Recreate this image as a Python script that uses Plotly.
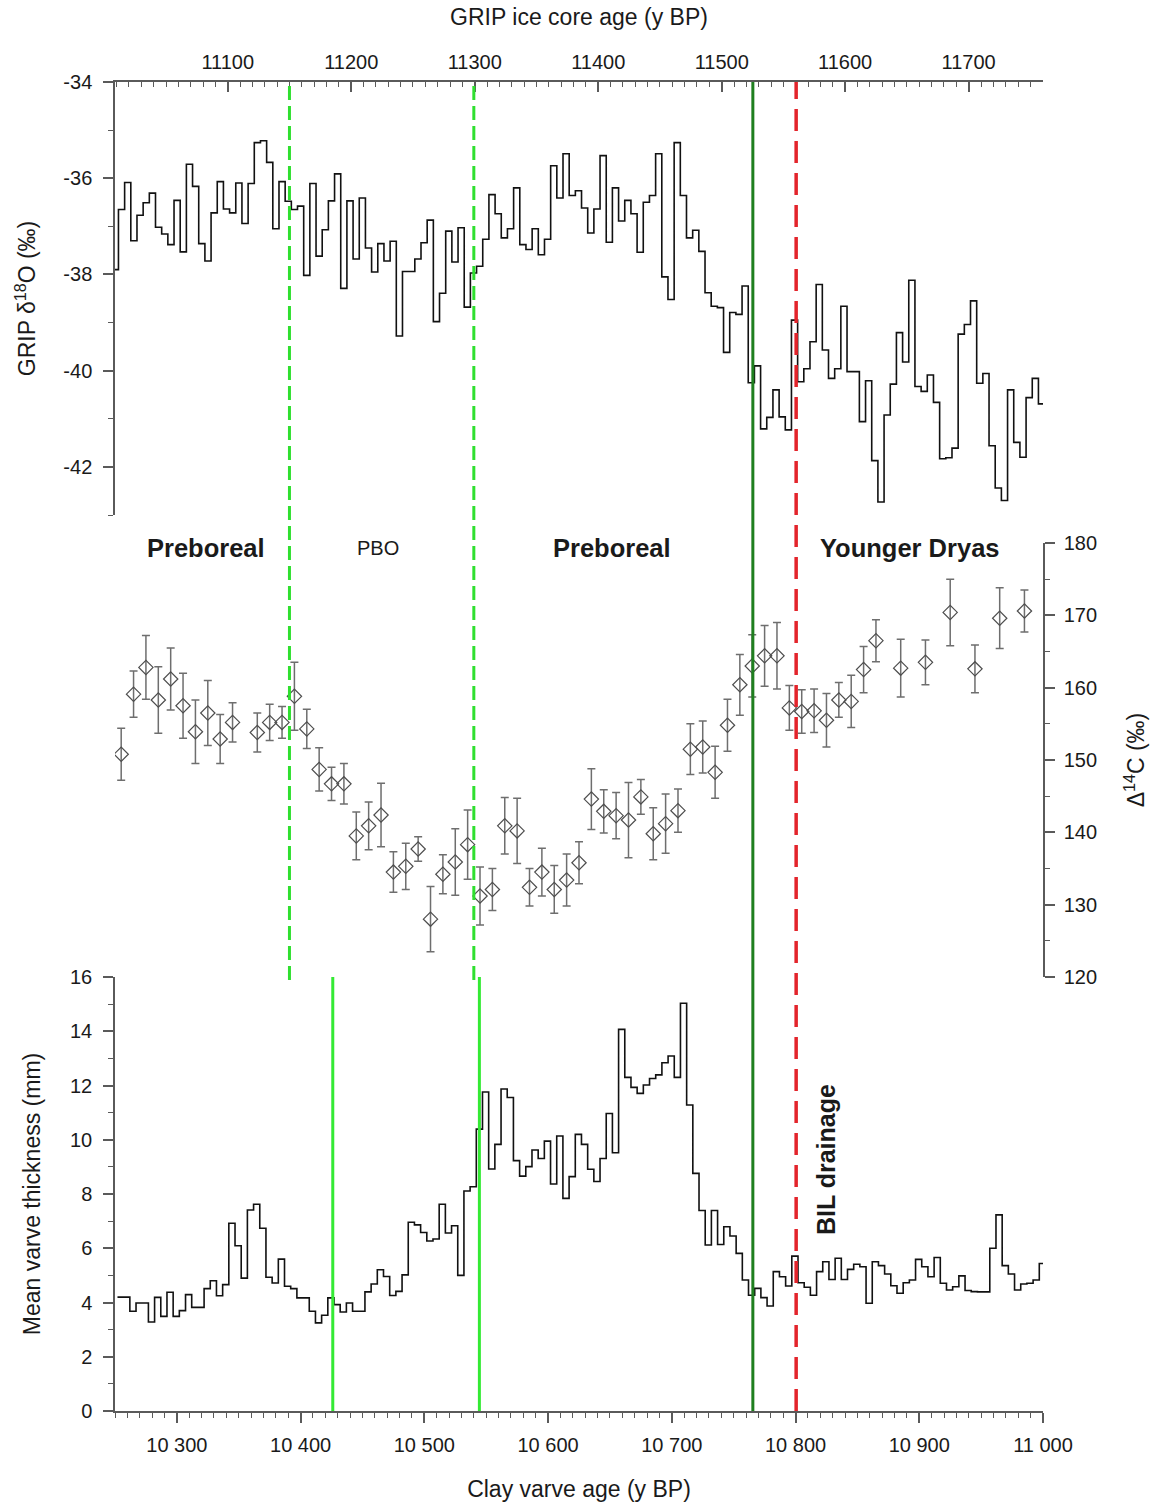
import plotly.graph_objects as go

# ---------------- data ----------------
# GRIP delta18O, 5-yr steps on the GRIP ice-core age scale (step start ages)
grip_age_start = 11006.5
grip_step = 5
grip_d18o = [
    -37.90,
    -36.65, -36.09, -37.30, -36.77, -36.51, -36.31, -37.02, -37.16, -37.38, -36.46,
    -37.53, -35.71, -36.17, -37.36, -37.72, -36.72, -36.07, -36.64, -36.72, -36.10,
    -36.94, -36.11, -35.26, -35.22, -35.67, -37.05, -36.07, -36.48, -36.65, -36.58,
    -38.02, -36.11, -37.62, -37.07, -36.47, -35.91, -38.29, -36.47, -37.68, -36.41,
    -37.45, -37.95, -37.36, -37.72, -37.31, -39.28, -37.94, -37.94, -37.68, -37.34,
    -36.87, -38.98, -38.39, -37.10, -37.74, -37.03, -38.68, -37.97, -37.83, -37.27,
    -36.34, -36.74, -37.24, -37.05, -36.20, -37.38, -37.48, -37.05, -37.59, -37.27,
    -35.74, -36.41, -35.49, -36.36, -36.26, -36.62, -37.14, -36.64, -35.53, -37.33,
    -36.20, -36.89, -36.46, -36.74, -37.54, -36.50, -36.36, -35.49, -38.05, -38.52,
    -35.26, -36.36, -37.24, -37.08, -37.52, -38.38, -38.66, -38.69, -39.62, -38.79,
    -38.83, -38.24, -40.25, -39.90, -41.21, -40.97, -40.40, -40.96, -41.23, -38.95,
    -40.23, -39.96, -39.40, -38.21, -39.57, -40.16, -39.96, -38.66, -40.02, -40.02,
    -41.06, -40.21, -41.87, -42.73, -40.92, -40.28, -39.21, -39.82, -38.12, -40.33,
    -40.43, -40.09, -40.66, -41.83, -41.81, -41.61, -39.24, -39.04, -38.55, -40.26,
    -40.06, -41.56, -42.44, -42.70, -40.40, -41.49, -41.80, -40.56, -40.16, -40.69,
]
grip_age = [grip_age_start + grip_step * i for i in range(len(grip_d18o))]

# Delta14C (permil) with 1-sigma errors, on the clay varve age scale
c14_age = [10255, 10265, 10275, 10285, 10295, 10305, 10315, 10325, 10335, 10345,
           10365, 10375, 10385, 10395, 10405, 10415, 10425, 10435, 10445, 10455,
           10465, 10475, 10485, 10495, 10505, 10515, 10525, 10535, 10545, 10555,
           10565, 10575, 10585, 10595, 10605, 10615, 10625, 10635, 10645, 10655,
           10665, 10675, 10685, 10695, 10705, 10715, 10725, 10735, 10745, 10755,
           10765, 10775, 10785, 10795, 10805, 10815, 10825, 10835, 10845, 10855,
           10865, 10885, 10905, 10925, 10945, 10965, 10985]
c14_val = [150.8, 159.1, 162.8, 158.3, 161.2, 157.5, 153.9, 156.5, 152.9, 155.2,
           153.8, 155.2, 155.2, 158.8, 154.3, 148.7, 146.7, 146.7, 139.5, 140.9,
           142.4, 134.5, 135.3, 137.7, 128.0, 134.2, 135.9, 138.3, 131.2, 132.1,
           140.9, 140.2, 132.4, 134.5, 132.1, 133.4, 135.8, 144.6, 142.9, 142.3,
           141.7, 144.9, 139.8, 141.2, 143.0, 151.5, 151.8, 148.3, 154.8, 160.4,
           163.0, 164.4, 164.4, 157.2, 156.7, 156.8, 155.5, 158.3, 158.1, 162.5,
           166.5, 162.7, 163.5, 170.4, 162.6, 169.6, 170.6]
c14_err = [3.6, 3.2, 4.4, 4.6, 4.3, 4.5, 4.4, 4.5, 3.4, 2.7,
           2.7, 2.5, 2.2, 4.7, 2.7, 3.0, 2.3, 2.8, 3.3, 3.3,
           4.4, 2.8, 3.2, 1.7, 4.5, 2.7, 4.6, 4.8, 4.0, 2.9,
           3.9, 4.5, 2.6, 3.3, 3.3, 3.6, 2.9, 4.2, 3.0, 3.2,
           5.2, 2.4, 3.6, 4.1, 3.0, 3.5, 3.6, 3.6, 3.6, 4.2,
           4.3, 4.2, 4.6, 3.1, 3.0, 3.0, 3.7, 2.4, 3.6, 3.2,
           2.9, 4.0, 3.1, 4.6, 3.3, 4.2, 2.9]

# Mean varve thickness (mm), 5-yr steps on the clay varve age scale
varve_age_start = 10252
varve_step = 5
varve_mm = [
    4.20, 4.20, 3.68, 3.98, 3.98, 3.28, 4.19, 3.49, 4.38, 3.49,
    3.70, 4.29, 3.82, 3.82, 4.51, 4.80, 4.25, 4.66, 6.92, 6.09,
    4.90, 7.41, 7.62, 6.74, 4.93, 4.72, 5.60, 4.60, 4.51, 4.17,
    4.17, 3.68, 3.25, 3.53, 4.17, 3.92, 3.65, 3.98, 3.68, 3.68,
    4.39, 4.68, 5.21, 4.96, 4.26, 4.41, 5.02, 6.96, 6.86, 6.58,
    6.27, 6.34, 7.62, 6.56, 6.83, 5.00, 8.11, 8.27, 10.39, 11.76,
    8.92, 9.83, 11.87, 11.56, 9.23, 8.66, 9.01, 9.62, 9.31, 9.95,
    8.37, 10.14, 7.84, 8.64, 10.20, 9.83, 8.91, 8.46, 9.31, 10.97,
    9.52, 14.07, 12.30, 11.93, 11.71, 12.02, 12.26, 12.39, 12.84, 13.09,
    12.30, 15.03, 11.28, 8.76, 7.39, 6.12, 7.39, 6.14, 6.79, 6.45,
    5.81, 4.83, 4.27, 4.52, 4.18, 3.87, 5.14, 4.95, 4.61, 5.71,
    4.73, 4.56, 4.27, 5.14, 5.50, 4.85, 5.63, 4.85, 5.22, 5.41,
    5.32, 3.97, 5.50, 5.36, 5.05, 4.62, 4.34, 4.73, 4.83, 5.59,
    5.32, 4.95, 5.66, 4.71, 4.46, 4.58, 4.98, 4.44, 4.40, 4.39,
    4.39, 6.00, 7.23, 5.36, 5.05, 4.46, 4.68, 4.71, 4.83, 5.44,
]
varve_age = [varve_age_start + varve_step * i for i in range(len(varve_mm))]

# tick labels
varve_ticks = [10300, 10400, 10500, 10600, 10700, 10800, 10900, 11000]
varve_ticktext = ["10 300", "10 400", "10 500", "10 600", "10 700", "10 800", "10 900", "11 000"]
grip_ticks = [11100, 11200, 11300, 11400, 11500, 11600, 11700]
grip_ticktext = ["11100", "11200", "11300", "11400", "11500", "11600", "11700"]
d18o_ticks = [-34, -36, -38, -40, -42]
d18o_ticktext = ["-34", "-36", "-38", "-40", "-42"]

# event lines (clay varve ages)
pbo_dashed = [10391, 10540]
pbo_solid = [10426, 10544.5]
dark_green_line = 10765.5
bil_line = 10800.5

# zone labels
zone_labels = [("Preboreal", 10323.6, True, 25.5), ("PBO", 10462.6, False, 20),
               ("Preboreal", 10651.7, True, 25.5), ("Younger Dryas", 10892.6, True, 25.5)]

# ---------------- figure ----------------
FONT = "Liberation Sans, Arial, sans-serif"
AX = "#5a5a5a"
TXT = "#1a1a1a"

fig = go.Figure()

fig.add_trace(go.Scatter(
    x=grip_age + [grip_age[-1] + grip_step], y=grip_d18o + [grip_d18o[-1]],
    xaxis="x2", yaxis="y", mode="lines", line=dict(color="#111", width=1.6, shape="hv"),
    showlegend=False, hoverinfo="skip"))

fig.add_trace(go.Scatter(
    x=c14_age, y=c14_val, xaxis="x", yaxis="y2", mode="markers",
    marker=dict(symbol="diamond-open", size=11, color="#4d4d4d", line=dict(width=1.2)),
    error_y=dict(type="data", array=c14_err, visible=True, color="#6e6e6e", thickness=1.5, width=4),
    showlegend=False))

fig.add_trace(go.Scatter(
    x=varve_age + [varve_age[-1] + varve_step], y=varve_mm + [varve_mm[-1]],
    xaxis="x", yaxis="y3", mode="lines", line=dict(color="#111", width=1.6, shape="hv"),
    showlegend=False, hoverinfo="skip"))

# plot area: x 115..1043 px, y 82..1411 px
H = 1411 - 82
def py(Y):
    return (1411 - Y) / H

top_dom = [py(515), 1.0]
mid_dom = [py(977), py(543)]
bot_dom = [0.0, py(977)]

tickfont = dict(family=FONT, size=20, color=TXT)
titlefont = dict(family=FONT, size=23, color=TXT)

common = dict(showgrid=False, zeroline=False, showline=True, linecolor=AX, linewidth=1.5,
              tickcolor=AX, tickwidth=1.5, ticklen=10, tickfont=tickfont, automargin=False)

fig.update_layout(
    width=1157, height=1505,
    margin=dict(l=115, r=114, t=82, b=94),
    paper_bgcolor="white", plot_bgcolor="white",
    font=dict(family=FONT, color=TXT),
    xaxis=dict(domain=[0, 1], range=[10250, 11000], anchor="y3", side="bottom",
               ticks="outside", tickvals=varve_ticks, ticktext=varve_ticktext, ticklabelstandoff=5,
               minor=dict(tick0=10250, dtick=10, ticks="outside", ticklen=5, tickcolor=AX, tickwidth=1.2),
               title=dict(text="Clay varve age (y BP)", font=titlefont, standoff=26),
               **common),
    xaxis2=dict(domain=[0, 1], range=[11008.7, 11760.2], anchor="y", side="top",
                ticks="inside", tickvals=grip_ticks, ticktext=grip_ticktext, ticklabelstandoff=3,
                minor=dict(tick0=11000, dtick=10, ticks="inside", ticklen=5, tickcolor=AX, tickwidth=1.2),
                title=dict(text="GRIP ice core age (y BP)", font=titlefont, standoff=19),
                **common),
    yaxis=dict(domain=top_dom, range=[-43, -34], anchor="x2", side="left",
               ticks="outside", tickvals=d18o_ticks, ticktext=d18o_ticktext, ticklabelstandoff=7,
               minor=dict(tick0=-34, dtick=1, ticks="outside", ticklen=5, tickcolor=AX, tickwidth=1.2),
               title=dict(text="GRIP δ<sup>18</sup>O (‰)", font=titlefont, standoff=21),
               **common),
    yaxis2=dict(domain=mid_dom, range=[120, 180], anchor="x", side="right",
                ticks="outside", dtick=10, tick0=120, ticklabelstandoff=5,
                minor=dict(tick0=120, dtick=5, ticks="outside", ticklen=5, tickcolor=AX, tickwidth=1.2),
                title=dict(text="Δ<sup>14</sup>C (‰)", font=titlefont, standoff=32),
                **common),
    yaxis3=dict(domain=bot_dom, range=[0, 16], anchor="x", side="left",
                ticks="outside", dtick=2, tick0=0, ticklabelstandoff=7,
                minor=dict(tick0=0, dtick=1, ticks="outside", ticklen=5, tickcolor=AX, tickwidth=1.2),
                title=dict(text="Mean varve thickness (mm)", font=titlefont, standoff=23),
                **common),
)

# vertical event lines
for xv in pbo_dashed:
    fig.add_shape(type="line", xref="x", yref="paper", x0=xv, x1=xv, y0=py(980), y1=1.0,
                  line=dict(color="#2fdf2f", width=3, dash="14px,6px"), layer="above")
for xv in pbo_solid:
    fig.add_shape(type="line", xref="x", yref="paper", x0=xv, x1=xv, y0=0, y1=py(977),
                  line=dict(color="#34ea34", width=3), layer="above")
fig.add_shape(type="line", xref="x", yref="paper", x0=dark_green_line, x1=dark_green_line, y0=0, y1=1.0,
              line=dict(color="#1f7f1f", width=3), layer="above")
fig.add_shape(type="line", xref="x", yref="paper", x0=bil_line, x1=bil_line, y0=0, y1=1.0,
              line=dict(color="#e3242b", width=3.5, dash="22px,10px"), layer="above")

# zone labels
for txt, xv, bold, size in zone_labels:
    fig.add_annotation(x=xv, y=py(548), xref="x", yref="paper", showarrow=False,
                       text=f"<b>{txt}</b>" if bold else txt,
                       font=dict(family=FONT, size=size, color=TXT),
                       xanchor="center", yanchor="middle")

fig.add_annotation(x=10824.7, y=py(1160), xref="x", yref="paper", showarrow=False,
                   text="<b>BIL drainage</b>", textangle=-90,
                   font=dict(family=FONT, size=25, color=TXT),
                   xanchor="center", yanchor="middle")

fig.write_html("out.html")
